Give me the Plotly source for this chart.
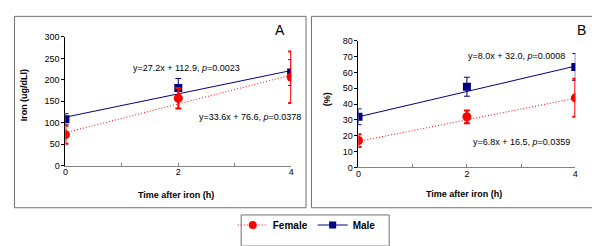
import plotly.graph_objects as go

# ---- data ----
time_h = [0, 2, 4]

# Panel A: serum iron (ug/dL)
iron_female = [72, 157, 206]
iron_female_err = [21, 24, 60]
iron_male = [108, 181, 217]
iron_male_err = [13, 22, 30]
iron_fit_female = [33.6, 76.6]   # slope, intercept
iron_fit_male = [27.2, 112.9]

# Panel B: transferrin saturation (%)
sat_female = [17, 32, 44]
sat_female_err = [4, 4, 12]
sat_male = [32, 51, 63.5]
sat_male_err = [5, 6, 8.5]
sat_fit_female = [6.8, 16.5]
sat_fit_male = [8.0, 32.0]

fit_x = [0, 4]

W, H = 600, 246
RED = "#FF0000"
NAVY = "#000080"
FRAME = "#707070"
FONT = "Liberation Sans, Arial, sans-serif"


def px(x):
    return x / W


def py(y):
    return 1 - y / H


fig = go.Figure()


def add_panel(xa, ya, fem, fem_err, mal, mal_err, fit_f, fit_m):
    fig.add_trace(go.Scatter(
        x=fit_x, y=[fit_f[1] + fit_f[0] * v for v in fit_x], mode="lines",
        line=dict(color=RED, width=1, dash="1px,2px"), showlegend=False,
        xaxis=xa, yaxis=ya, hoverinfo="skip"))
    fig.add_trace(go.Scatter(
        x=fit_x, y=[fit_m[1] + fit_m[0] * v for v in fit_x], mode="lines",
        line=dict(color=NAVY, width=1), showlegend=False,
        xaxis=xa, yaxis=ya, hoverinfo="skip"))
    fig.add_trace(go.Scatter(
        x=time_h, y=mal, mode="markers",
        marker=dict(symbol="square", size=8, color=NAVY),
        error_y=dict(type="data", array=mal_err, color=NAVY, thickness=1, width=3),
        showlegend=False, xaxis=xa, yaxis=ya))
    fig.add_trace(go.Scatter(
        x=time_h, y=fem, mode="markers",
        marker=dict(symbol="circle", size=9, color=RED),
        error_y=dict(type="data", array=fem_err, color=RED, thickness=2, width=3),
        showlegend=False, xaxis=xa, yaxis=ya))


add_panel("x", "y", iron_female, iron_female_err, iron_male, iron_male_err,
          iron_fit_female, iron_fit_male)
add_panel("x2", "y2", sat_female, sat_female_err, sat_male, sat_male_err,
          sat_fit_female, sat_fit_male)

# legend entries
fig.add_trace(go.Scatter(x=[None], y=[None], mode="lines+markers", name="Female",
                         line=dict(color=RED, width=1, dash="1px,2px"),
                         marker=dict(symbol="circle", size=8, color=RED)))
fig.add_trace(go.Scatter(x=[None], y=[None], mode="lines+markers", name="Male",
                         line=dict(color=NAVY, width=1),
                         marker=dict(symbol="square", size=7, color=NAVY)))

xcommon = dict(range=[0, 4], tickvals=[0, 1, 2, 3, 4], ticktext=["0", "", "2", "", "4"],
               ticks="inside", ticklen=3, tickcolor="#808080", showline=True,
               linecolor="#808080", linewidth=1, showgrid=False, zeroline=False,
               tickfont=dict(family=FONT, size=9, color="black"),
               ticklabelstandoff=-2)
ycommon = dict(ticks="outside", ticklen=3, tickcolor="black", showline=True,
               linecolor="black", linewidth=1, showgrid=False, zeroline=False,
               tickfont=dict(family=FONT, size=9, color="black"))

fig.update_layout(
    width=W, height=H,
    margin=dict(l=0, r=0, t=0, b=0),
    paper_bgcolor="white", plot_bgcolor="white",
    font=dict(family=FONT, size=9, color="black"),
    xaxis=dict(domain=[px(55), px(283)], anchor="y", **xcommon),
    yaxis=dict(domain=[py(159), py(25)], anchor="x", range=[0, 300], dtick=50, **ycommon),
    xaxis2=dict(domain=[px(351), px(570)], anchor="y2", **xcommon),
    yaxis2=dict(domain=[py(161), py(29)], anchor="x2", range=[0, 80], dtick=10, **ycommon),
    legend=dict(orientation="h", x=px(224), y=py(221), xanchor="left", yanchor="middle",
                font=dict(family=FONT, size=10, color="black", weight="bold"),
                bgcolor="rgba(0,0,0,0)", itemwidth=30, tracegroupgap=0),
    showlegend=True,
)

shapes = [
    dict(type="rect", xref="paper", yref="paper", x0=px(3.5), x1=px(298), y0=py(203), y1=py(3.5),
         line=dict(color=FRAME, width=1)),
    dict(type="rect", xref="paper", yref="paper", x0=px(303.5), x1=px(598), y0=py(203), y1=py(3.5),
         line=dict(color=FRAME, width=1)),
    dict(type="rect", xref="paper", yref="paper", x0=px(232.5), x1=px(382), y0=py(243), y1=py(210.5),
         line=dict(color=FRAME, width=1)),
]
fig.update_layout(shapes=shapes)


def ann(text, x, y, size=9, bold=False, angle=0):
    fig.add_annotation(text=text, x=px(x), y=py(y), xref="paper", yref="paper",
                       showarrow=False, xanchor="center", yanchor="middle", textangle=angle,
                       font=dict(family=FONT, size=size, color="black",
                                 weight="bold" if bold else "normal"))


ann("y=27.2x + 112.9, <i>p</i>=0.0023", 177.5, 57)
ann("y=33.6x + 76.6, <i>p</i>=0.0378", 241, 108)
ann("y=8.0x + 32.0, <i>p</i>=0.0008", 511, 45)
ann("y=6.8x + 16.5, <i>p</i>=0.0359", 515.5, 134)
ann("A", 272, 18, size=14)
ann("B", 576, 18, size=14)
ann("Time after iron (h)", 167, 190, bold=True)
ann("Time after iron (h)", 457.5, 189, bold=True)
ann("Iron (ug/dLl)", 13, 86, bold=True, angle=-90)
ann("(%)", 320, 90, bold=True, angle=-90)

fig.write_html("out.html")
